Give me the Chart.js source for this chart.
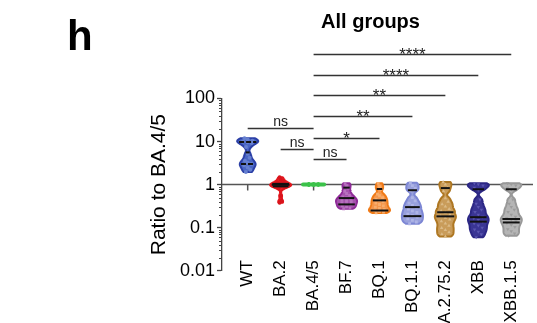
<!DOCTYPE html>
<html>
<head>
<meta charset="utf-8">
<script src="https://cdn.jsdelivr.net/npm/chart.js@4.4.0/dist/chart.umd.min.js"></script>
<style>
  body { margin: 0; background: #fff; }
  canvas { display: block; }
</style>
</head>
<body>
<canvas id="ratioChart" width="537" height="323"></canvas>
<script>
const FONT = "'Liberation Sans', Arial, Helvetica, sans-serif";

const categories = ["WT", "BA.2", "BA.4/5", "BF.7", "BQ.1", "BQ.1.1", "A.2.75.2", "XBB", "XBB.1.5"];

// ratio to BA.4/5, one value per sample
const wtValues = [12, 11.2, 10.5, 10, 9.6, 9.2, 7.5, 5.2, 4.2, 3.6, 3.2, 3.0, 2.8, 2.5, 2.2, 1.95];
const ba2Values = [1.48, 1.3, 1.2, 1.12, 1.06, 1.03, 1.0, 0.98, 0.96, 0.94, 0.92, 0.88, 0.82, 0.55, 0.42, 0.38];
const ba45Values = [1, 1, 1, 1, 1, 1, 1, 1, 1, 1, 1, 1, 1, 1];
const bf7Values = [1.07, 0.95, 0.83, 0.7, 0.62, 0.56, 0.52, 0.49, 0.46, 0.44, 0.42, 0.4, 0.38, 0.36, 0.34, 0.32, 0.3, 0.285, 0.275];
const bq1Values = [1.07, 0.9, 0.78, 0.6, 0.55, 0.5, 0.46, 0.43, 0.4, 0.37, 0.345, 0.32, 0.3, 0.28, 0.265, 0.25, 0.24, 0.23, 0.22];
const bq11Values = [1.1, 0.95, 0.82, 0.72, 0.5, 0.42, 0.37, 0.33, 0.3, 0.27, 0.245, 0.225, 0.205, 0.19, 0.175, 0.16, 0.148, 0.135, 0.123];
const a2752Values = [1.15, 1.0, 0.85, 0.7, 0.48, 0.4, 0.35, 0.31, 0.27, 0.245, 0.225, 0.2, 0.185, 0.17, 0.155, 0.14, 0.125, 0.11, 0.098, 0.088, 0.078, 0.07, 0.062];
const xbbValues = [1.07, 1.02, 0.95, 0.85, 0.76, 0.45, 0.36, 0.3, 0.26, 0.23, 0.2, 0.18, 0.165, 0.15, 0.138, 0.125, 0.112, 0.1, 0.09, 0.08, 0.07, 0.06];
const xbb15Values = [1.07, 1.02, 0.95, 0.85, 0.76, 0.45, 0.36, 0.3, 0.26, 0.23, 0.2, 0.18, 0.165, 0.152, 0.14, 0.128, 0.116, 0.104, 0.092, 0.082, 0.073, 0.065];

const groupValues = [wtValues, ba2Values, ba45Values, bf7Values, bq1Values, bq11Values, a2752Values, xbbValues, xbb15Values];

// lines drawn across each violin (quartiles and median)
const q1Values = [3.0, 0.91, 1, 0.347, 0.25, 0.185, 0.183, 0.138, 0.132];
const medianValues = [5.6, 0.99, 1, 0.486, 0.43, 0.30, 0.228, 0.175, 0.159];
const q3Values = [9.7, 1.04, 1, 0.85, 0.79, 0.74, 0.83, 0.78, 0.78];

const bandwidths = [0.06, 0.045, 0.06, 0.05, 0.05, 0.05, 0.05, 0.05, 0.05];

const yTicks = [0.01, 0.1, 1, 10, 100];

// significance brackets
const bracketFrom = [0, 1, 2, 2, 2, 2, 2, 2];
const bracketTo = [2, 2, 3, 4, 5, 6, 7, 8];
const bracketLevel = [21, 6.7, 3.9, 12.2, 39, 120, 358, 1108];
const bracketLabel = ["ns", "ns", "ns", "*", "**", "**", "****", "****"];

const lineColors = ["#2b3fa6", "#e3161d", "#3cc24a", "#8f2a98", "#f07a16", "#7c86d4", "#ae7722", "#2c2785", "#989898"];
const fillColors = ["#4a66c4", "#ea2026", "#3cc24a", "#a553ad", "#f5964a", "#98a0dc", "#c99c5a", "#3a3594", "#b5b5b5"];
const pointColors = ["#6680d0", "#d8141c", "#3cc24a", "#b872bf", "#f8ad6c", "#aeb4e6", "#dcbb88", "#5a56b0", "#9c9c9c"];
const pointStyles = ["circle", "circle", "circle", "rect", "rect", "rect", "triangle", "triangle", "triangle"];
const pointRotations = [0, 0, 0, 0, 0, 0, 0, 180, 180];

const HALF_WIDTH = 0.32; // category units

function density(logs, t, bw) {
  let s = 0;
  for (const v of logs) {
    const z = (t - v) / bw;
    s += Math.exp(-0.5 * z * z);
  }
  return s;
}

const profiles = groupValues.map((vals, i) => {
  const logs = vals.map(v => Math.log10(v));
  const lo = Math.min(...logs), hi = Math.max(...logs);
  if (hi - lo < 1e-9) return { flat: true, logs };
  const t = [], d = [];
  const n = 80;
  for (let k = 0; k <= n; k++) {
    const tk = lo + (hi - lo) * k / n;
    t.push(tk);
    d.push(density(logs, tk, bandwidths[i]));
  }
  const max = Math.max(...d);
  return { flat: false, logs, t, d: d.map(x => x / max), max, bw: bandwidths[i] };
});

function widthAt(i, value) {
  const p = profiles[i];
  if (p.flat) return 1;
  return density(p.logs, Math.log10(value), p.bw) / p.max;
}

const datasets = groupValues.map((vals, i) => ({
  data: vals.map((v, k) => ({ x: i + ((k % 3) - 1) * 0.45 * HALF_WIDTH * widthAt(i, v), y: v })),
  showLine: false,
  pointStyle: pointStyles[i],
  pointRotation: pointRotations[i],
  pointRadius: 2,
  pointBackgroundColor: pointColors[i],
  pointBorderColor: pointColors[i],
  pointBorderWidth: 0
}));

const violinPlugin = {
  id: "violins",
  beforeDatasetsDraw(chart) {
    const { ctx, chartArea } = chart;
    const xs = chart.scales.x, ys = chart.scales.y;
    const y1 = ys.getPixelForValue(1);
    ctx.save();
    // axis line at ratio 1 with category ticks
    ctx.strokeStyle = "#555";
    ctx.lineWidth = 1.5;
    ctx.beginPath();
    ctx.moveTo(chartArea.left, y1);
    ctx.lineTo(chartArea.right, y1);
    categories.forEach((c, i) => {
      const x = xs.getPixelForValue(i);
      ctx.moveTo(x, y1);
      ctx.lineTo(x, y1 + 6);
    });
    ctx.stroke();
    // minor log ticks
    ctx.strokeStyle = "#444";
    ctx.lineWidth = 1;
    ctx.beginPath();
    for (let d = 0; d < yTicks.length - 1; d++) {
      for (let k = 2; k <= 9; k++) {
        const y = Math.round(ys.getPixelForValue(yTicks[d] * k)) + 0.5;
        ctx.moveTo(chartArea.left - 3, y);
        ctx.lineTo(chartArea.left, y);
      }
    }
    ctx.stroke();

    profiles.forEach((p, i) => {
      if (p.flat) {
        const y = ys.getPixelForValue(Math.pow(10, p.logs[0]));
        ctx.strokeStyle = lineColors[i];
        ctx.lineWidth = 4;
        ctx.lineCap = "round";
        ctx.beginPath();
        ctx.moveTo(xs.getPixelForValue(i - HALF_WIDTH), y);
        ctx.lineTo(xs.getPixelForValue(i + HALF_WIDTH), y);
        ctx.stroke();
        return;
      }
      ctx.beginPath();
      p.t.forEach((t, k) => {
        const px = xs.getPixelForValue(i + HALF_WIDTH * p.d[k]);
        const py = ys.getPixelForValue(Math.pow(10, t));
        if (k === 0) ctx.moveTo(px, py); else ctx.lineTo(px, py);
      });
      for (let k = p.t.length - 1; k >= 0; k--) {
        ctx.lineTo(xs.getPixelForValue(i - HALF_WIDTH * p.d[k]), ys.getPixelForValue(Math.pow(10, p.t[k])));
      }
      ctx.closePath();
      ctx.fillStyle = fillColors[i];
      ctx.strokeStyle = lineColors[i];
      ctx.lineWidth = 2;
      ctx.lineJoin = "round";
      ctx.fill();
      ctx.stroke();
    });
    ctx.restore();
  },
  afterDatasetsDraw(chart) {
    const { ctx } = chart;
    const xs = chart.scales.x, ys = chart.scales.y;
    ctx.save();
    ctx.strokeStyle = "#111";
    ctx.lineWidth = 2;
    profiles.forEach((p, i) => {
      if (p.flat) return;
      ctx.setLineDash(i === 0 ? [5, 2] : []);
      [q1Values[i], medianValues[i], q3Values[i]].forEach(q => {
        const w = HALF_WIDTH * widthAt(i, q) * 0.85;
        const y = ys.getPixelForValue(q);
        ctx.beginPath();
        ctx.moveTo(xs.getPixelForValue(i - w), y);
        ctx.lineTo(xs.getPixelForValue(i + w), y);
        ctx.stroke();
      });
    });
    ctx.restore();
  },
  afterDraw(chart) {
    const { ctx } = chart;
    const xs = chart.scales.x, ys = chart.scales.y;
    ctx.save();
    bracketLabel.forEach((label, b) => {
      const y = Math.round(ys.getPixelForValue(bracketLevel[b])) + 0.5;
      const x1 = xs.getPixelForValue(bracketFrom[b]);
      const x2 = xs.getPixelForValue(bracketTo[b]);
      ctx.strokeStyle = "#333";
      ctx.lineWidth = 1.3;
      ctx.beginPath();
      ctx.moveTo(x1, y);
      ctx.lineTo(x2, y);
      ctx.stroke();
      ctx.fillStyle = "#222";
      ctx.textAlign = "center";
      ctx.textBaseline = "alphabetic";
      if (label === "ns") {
        ctx.font = "14px " + FONT;
        ctx.fillText(label, (x1 + x2) / 2, y - 3);
      } else {
        ctx.font = "17px " + FONT;
        ctx.fillText(label, (x1 + x2) / 2, y + 5);
      }
    });
    ctx.fillStyle = "#000";
    ctx.textAlign = "center";
    ctx.font = "bold 20px " + FONT;
    ctx.fillText("All groups", 370.5, 27.5);
    ctx.textAlign = "left";
    ctx.font = "bold 42px " + FONT;
    ctx.fillText("h", 67, 49.5);
    ctx.restore();
  }
};

new Chart(document.getElementById("ratioChart"), {
  type: "scatter",
  data: { datasets },
  options: {
    responsive: false,
    animation: false,
    layout: { padding: { top: 98.5, right: 2, left: 140, bottom: 52.3 } },
    plugins: { legend: { display: false }, tooltip: { enabled: false } },
    scales: {
      x: {
        type: "linear",
        position: { y: 0.01 },
        min: -0.78,
        max: 8.66,
        afterBuildTicks: s => { s.ticks = categories.map((c, i) => ({ value: i })); },
        grid: { display: false },
        border: { display: false },
        ticks: {
          autoSkip: false,
          minRotation: 90,
          maxRotation: 90,
          padding: -18.5,
          color: "#000",
          font: { family: FONT, size: 17 },
          callback: v => categories[v]
        }
      },
      y: {
        type: "logarithmic",
        min: 0.01,
        max: 100,
        afterBuildTicks: s => { s.ticks = yTicks.map(v => ({ value: v })); },
        afterFit: s => { s.width = 82; },
        grid: { drawOnChartArea: false, drawTicks: true, tickLength: 5, color: "#444", tickWidth: 1.3 },
        border: { display: true, color: "#444", width: 1.3 },
        ticks: {
          padding: 2,
          color: "#000",
          font: { family: FONT, size: 18 },
          callback: v => String(v)
        },
        title: {
          display: true,
          text: "Ratio to BA.4/5",
          color: "#000",
          font: { family: FONT, size: 21 },
          padding: { top: 7, bottom: 0 }
        }
      }
    }
  },
  plugins: [violinPlugin]
});
</script>
</body>
</html>
